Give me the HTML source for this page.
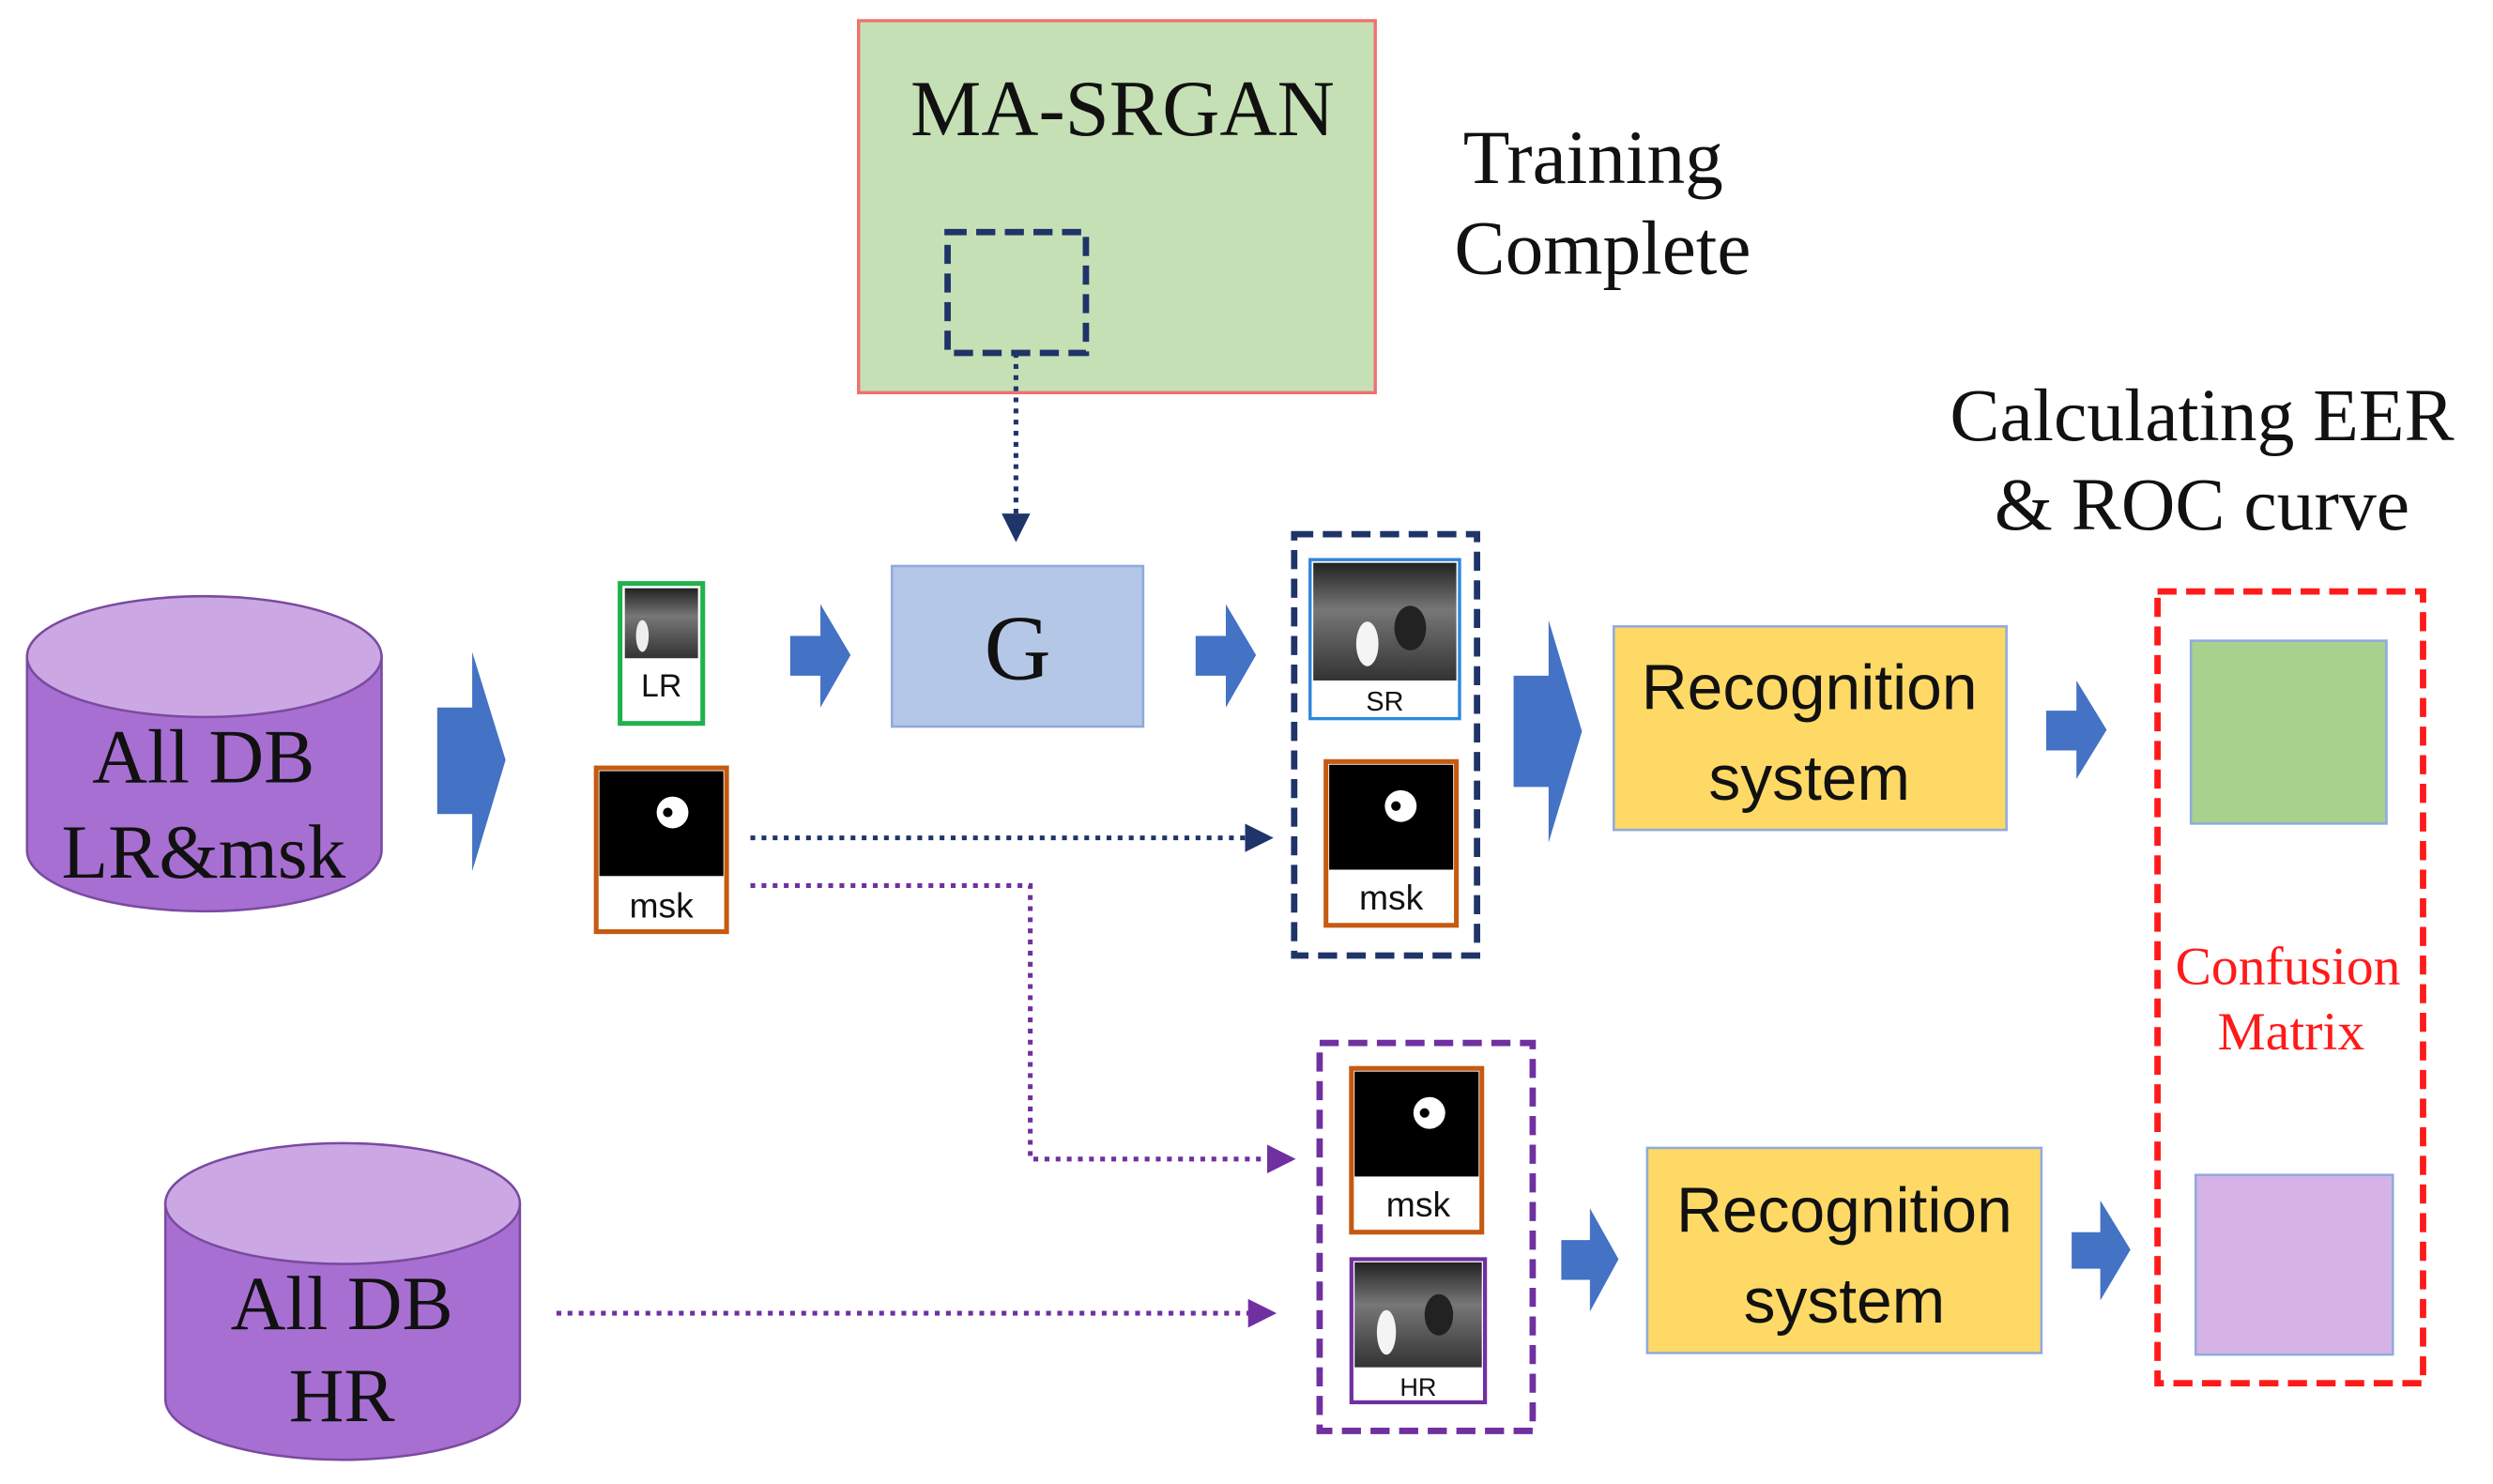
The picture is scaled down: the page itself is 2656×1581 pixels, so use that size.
<!DOCTYPE html>
<html><head><meta charset="utf-8"><style>html,body{margin:0;padding:0;background:#fff}svg{display:block}</style></head>
<body>
<svg width="2656" height="1581" viewBox="0 0 1568 933.4" preserveAspectRatio="none" xmlns="http://www.w3.org/2000/svg">
<defs>
<linearGradient id="eye" x1="0" y1="0" x2="0" y2="1"><stop offset="0" stop-color="#222"/><stop offset="0.4" stop-color="#777"/><stop offset="1" stop-color="#333"/></linearGradient>
<marker id="an" markerWidth="6" markerHeight="6" refX="5" refY="3" orient="auto" markerUnits="strokeWidth"><path d="M0,0 L6,3 L0,6z" fill="#1f3468"/></marker>
<marker id="ap" markerWidth="6" markerHeight="6" refX="5" refY="3" orient="auto" markerUnits="strokeWidth"><path d="M0,0 L6,3 L0,6z" fill="#7030a0"/></marker>
</defs>
<g font-family="Liberation Serif, serif">
<rect x="540" y="13" width="325" height="234" fill="#c5e0b4" stroke="#f07070" stroke-width="2"/>
<text x="706" y="85" font-size="50" text-anchor="middle" fill="#111">MA-SRGAN</text>
<rect x="596" y="146" width="87" height="76" fill="none" stroke="#1f3468" stroke-width="4" stroke-dasharray="12,6"/>
<line x1="639" y1="222" x2="639" y2="338" stroke="#1f3468" stroke-width="3" stroke-dasharray="3,4" marker-end="url(#an)"/>
<text x="1002" y="115" font-size="48" text-anchor="middle" fill="#111">Training</text>
<text x="1008" y="172" font-size="48" text-anchor="middle" fill="#111">Complete</text>
<text x="1385" y="277" font-size="47" text-anchor="middle" fill="#111">Calculating EER</text>
<text x="1385" y="333" font-size="47" text-anchor="middle" fill="#111">&amp; ROC curve</text>

<path d="M17,413 L17,535 A111,38 0 0 0 240,535 L240,413z" fill="#a86fd2" stroke="#7a4aa0" stroke-width="1.5"/>
<ellipse cx="128.5" cy="413" rx="111.5" ry="38" fill="#cba8e3" stroke="#7a4aa0" stroke-width="1.5"/>
<text x="128" y="492" font-size="48" text-anchor="middle" fill="#111">All DB</text>
<text x="128" y="552" font-size="48" text-anchor="middle" fill="#111">LR&amp;msk</text>
<path d="M104,757 L104,880 A111,38 0 0 0 327,880 L327,757z" fill="#a86fd2" stroke="#7a4aa0" stroke-width="1.5"/>
<ellipse cx="215.5" cy="757" rx="111.5" ry="38" fill="#cba8e3" stroke="#7a4aa0" stroke-width="1.5"/>
<text x="215" y="836" font-size="48" text-anchor="middle" fill="#111">All DB</text>
<text x="215" y="894" font-size="48" text-anchor="middle" fill="#111">HR</text>

<g fill="#4472c4">
<path d="M275,445 L297,445 L297,410 L318,478 L297,548 L297,512 L275,512z"/>
<path d="M497,400 L516,400 L516,380 L535,412 L516,445 L516,425 L497,425z"/>
<path d="M752,400 L771,400 L771,380 L790,412 L771,445 L771,425 L752,425z"/>
<path d="M952,425 L974,425 L974,390 L995,460 L974,530 L974,495 L952,495z"/>
<path d="M1287,447 L1306,447 L1306,428 L1325,459 L1306,490 L1306,472 L1287,472z"/>
<path d="M982,780 L1000,780 L1000,760 L1018,792 L1000,825 L1000,805 L982,805z"/>
<path d="M1303,775 L1321,775 L1321,755 L1340,786 L1321,818 L1321,798 L1303,798z"/>
</g>

<rect x="390" y="367" width="52" height="88" fill="#fff" stroke="#22b14c" stroke-width="3"/>
<rect x="393" y="370" width="46" height="44" fill="url(#eye)"/>
<ellipse cx="404" cy="400" rx="4" ry="10" fill="#eee"/>
<text x="416" y="438" font-family="Liberation Sans, sans-serif" font-size="20" text-anchor="middle" fill="#111">LR</text>
<rect x="375" y="483" width="82" height="103" fill="#fff" stroke="#c55a11" stroke-width="3"/>
<rect x="377" y="485" width="78" height="66" fill="#000"/>
<circle cx="423" cy="511" r="10" fill="#fff"/><circle cx="420" cy="511" r="3" fill="#000"/>
<text x="416" y="577" font-family="Liberation Sans, sans-serif" font-size="22" text-anchor="middle" fill="#111">msk</text>
<rect x="561" y="356" width="158" height="101" fill="#b4c7e7" stroke="#8faadc" stroke-width="1.5"/>
<text x="640" y="427" font-size="58" text-anchor="middle" fill="#111">G</text>

<rect x="814" y="336" width="115" height="265" fill="none" stroke="#1f3468" stroke-width="4" stroke-dasharray="12,6"/>
<rect x="824" y="352" width="94" height="100" fill="#fff" stroke="#2e86de" stroke-width="2"/>
<rect x="826" y="354" width="90" height="74" fill="url(#eye)"/>
<ellipse cx="887" cy="395" rx="10" ry="14" fill="#222"/>
<ellipse cx="860" cy="405" rx="7" ry="14" fill="#f4f4f4"/>
<text x="871" y="447" font-family="Liberation Sans, sans-serif" font-size="17" text-anchor="middle" fill="#111">SR</text>
<rect x="834" y="479" width="82" height="103" fill="#fff" stroke="#c55a11" stroke-width="3"/>
<rect x="836" y="481" width="78" height="66" fill="#000"/>
<circle cx="881" cy="507" r="10" fill="#fff"/><circle cx="878" cy="507" r="3" fill="#000"/>
<text x="875" y="572" font-family="Liberation Sans, sans-serif" font-size="22" text-anchor="middle" fill="#111">msk</text>

<rect x="830" y="656" width="134" height="244" fill="none" stroke="#7030a0" stroke-width="4" stroke-dasharray="12,6"/>
<rect x="850" y="672" width="82" height="103" fill="#fff" stroke="#c55a11" stroke-width="3"/>
<rect x="852" y="674" width="78" height="66" fill="#000"/>
<circle cx="899" cy="700" r="10" fill="#fff"/><circle cx="896" cy="700" r="3" fill="#000"/>
<text x="892" y="765" font-family="Liberation Sans, sans-serif" font-size="22" text-anchor="middle" fill="#111">msk</text>
<rect x="850" y="792" width="84" height="90" fill="#fff" stroke="#7030a0" stroke-width="2.5"/>
<rect x="852" y="794" width="80" height="66" fill="url(#eye)"/>
<ellipse cx="905" cy="827" rx="9" ry="13" fill="#222"/>
<ellipse cx="872" cy="838" rx="6" ry="14" fill="#f4f4f4"/>
<text x="892" y="878" font-family="Liberation Sans, sans-serif" font-size="16" text-anchor="middle" fill="#111">HR</text>

<line x1="472" y1="527" x2="798" y2="527" stroke="#1f3468" stroke-width="3" stroke-dasharray="3,4" marker-end="url(#an)"/>
<polyline points="472,557 648,557 648,729 812,729" fill="none" stroke="#7030a0" stroke-width="3" stroke-dasharray="3,4" marker-end="url(#ap)"/>
<line x1="350" y1="826" x2="800" y2="826" stroke="#7030a0" stroke-width="3" stroke-dasharray="3,4" marker-end="url(#ap)"/>

<rect x="1015" y="394" width="247" height="128" fill="#ffd966" stroke="#8faadc" stroke-width="1.5"/>
<text x="1138" y="446" font-family="Liberation Sans, sans-serif" font-size="40" text-anchor="middle" fill="#111">Recognition</text>
<text x="1138" y="503" font-family="Liberation Sans, sans-serif" font-size="40" text-anchor="middle" fill="#111">system</text>
<rect x="1036" y="722" width="248" height="129" fill="#ffd966" stroke="#8faadc" stroke-width="1.5"/>
<text x="1160" y="775" font-family="Liberation Sans, sans-serif" font-size="40" text-anchor="middle" fill="#111">Recognition</text>
<text x="1160" y="832" font-family="Liberation Sans, sans-serif" font-size="40" text-anchor="middle" fill="#111">system</text>

<rect x="1357" y="372" width="167" height="498" fill="none" stroke="#ff1a1a" stroke-width="4" stroke-dasharray="12,6"/>
<rect x="1378" y="403" width="123" height="115" fill="#a9d18e" stroke="#8faadc" stroke-width="1.5"/>
<rect x="1381" y="739" width="124" height="113" fill="#d5b3e6" stroke="#8faadc" stroke-width="1.5"/>
<text x="1439" y="619" font-size="34" text-anchor="middle" fill="#ff1a1a">Confusion</text>
<text x="1441" y="660" font-size="34" text-anchor="middle" fill="#ff1a1a">Matrix</text>
</g>
</svg>
</body></html>
